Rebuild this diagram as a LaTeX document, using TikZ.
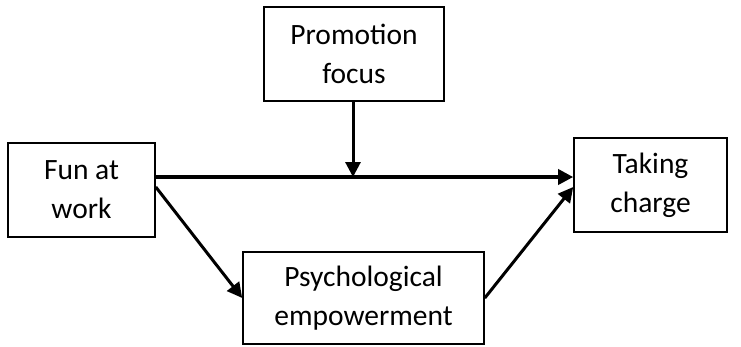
\documentclass[tikz,border=0pt]{standalone}
\usepackage{fontspec}
\setmainfont{Carlito}
\usetikzlibrary{arrows.meta}
\begin{document}
\begin{tikzpicture}[x=1pt,y=-1pt,
  box/.style={draw, line width=1.6pt, align=center, font=\fontsize{29.5}{39}\selectfont, inner sep=0pt},
  arr/.style={line width=3pt, -{Triangle[length=15pt,width=15pt]}}]
\useasboundingbox (0,0) rectangle (741,346);
\node[box, minimum width=147pt, minimum height=94pt] (fun) at (81.5,190) {Fun at\\work};
\node[box, minimum width=180pt, minimum height=94pt] (promo) at (354,54) {Promotion\\focus};
\node[box, minimum width=153pt, minimum height=94pt] (take) at (650.5,185) {Taking\\charge};
\node[box, minimum width=241pt, minimum height=92pt] (psych) at (363.5,298) {Psychological\\empowerment};
\coordinate (mid) at (353,177);
\draw[line width=3.5pt, -{Triangle[length=15pt,width=15pt]}] ([yshift=13pt]fun.east) -- ([yshift=8pt]take.west);
\draw[arr] (promo.south -| mid) -- (mid);
\draw[arr] ([yshift=3pt]fun.east) -- (psych.west);
\draw[arr] (psych.east) -- ([yshift=-2pt]take.west);
\end{tikzpicture}
\end{document}
